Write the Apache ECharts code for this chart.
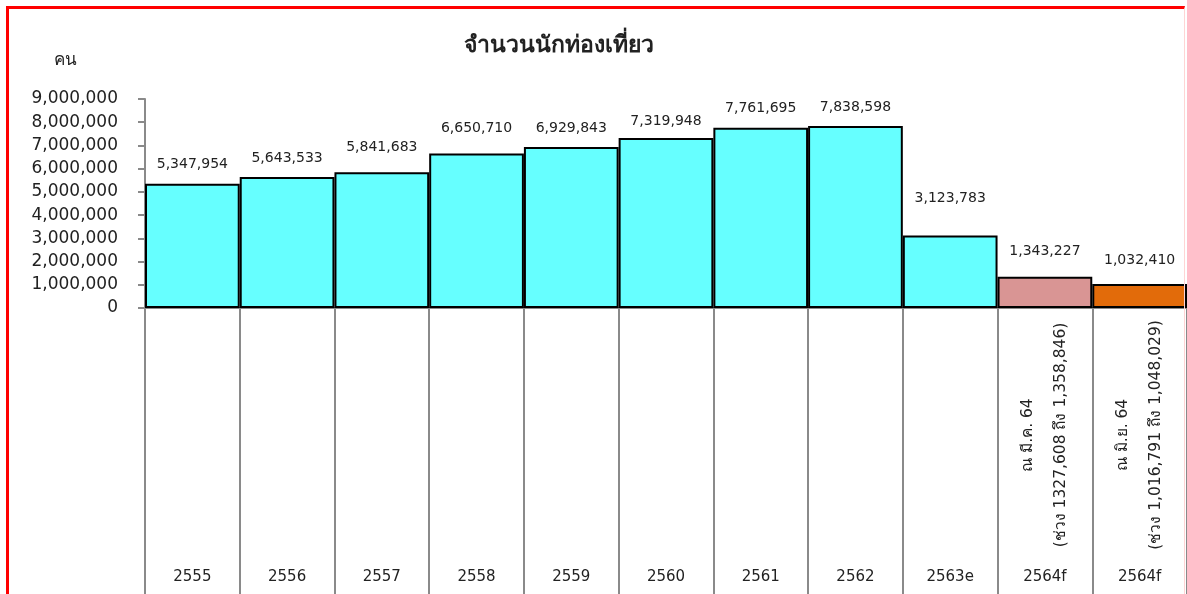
<!DOCTYPE html>
<html>
<head>
<meta charset="utf-8">
<script src="https://cdn.jsdelivr.net/npm/echarts@6/dist/echarts.min.js"></script>
<style>
    html, body { margin: 0; padding: 0; background: #fff; }
    #chartWrap { width: 1187px; height: 594px; }
    #frame {
        position: absolute; left: 6px; top: 6px; width: 1175px; height: 600px;
        border-left: 3px solid #ff0000; border-top: 3px solid #ff0000;
        border-right: 1px solid #ffd4d4; pointer-events: none;
    }
</style>
</head>
<body>
<div id="chartWrap"></div>
<div id="frame"></div>
<script>
// ข้อมูลจำนวนนักท่องเที่ยว
const years = ['2555', '2556', '2557', '2558', '2559', '2560', '2561', '2562', '2563e', '2564f', '2564f']
const visitors = [5347954, 5643533, 5841683, 6650710, 6929843, 7319948, 7761695, 7838598, 3123783, 1343227, 1032410]
const notes = ['', '', '', '', '', '', '', '', '',
    'ณ มี.ค. 64\n(ช่วง 1327,608 ถึง 1,358,846)',
    'ณ มิ.ย. 64\n(ช่วง 1,016,791 ถึง 1,048,029)']
const yTicks = [0, 1000000, 2000000, 3000000, 4000000, 5000000, 6000000, 7000000, 8000000, 9000000]

// สีแท่งและระยะป้ายตัวเลข (สไตล์)
const barColors = ['#66ffff', '#66ffff', '#66ffff', '#66ffff', '#66ffff', '#66ffff', '#66ffff', '#66ffff', '#66ffff', '#d99594', '#e26b0a']
const labelGaps = [12, 12, 18, 18, 12, 10, 12, 12, 30, 18, 17]
const font = 'Tahoma, "DejaVu Sans", "Noto Sans", sans-serif'
const fmt = v => Number(v).toLocaleString('en-US')

var chartDom = echarts.init(document.getElementById('chartWrap'))
var option = {
    animation: false,
    backgroundColor: '#fff',
    textStyle: { fontFamily: font },
    title: {
        text: 'จำนวนนักท่องเที่ยว',
        left: 554, top: 30, textAlign: 'center',
        textStyle: { fontFamily: font, fontSize: 23, fontWeight: 'bold', color: '#222' }
    },
    grid: { left: 145, right: -1, top: 99, bottom: 286, containLabel: false },
    xAxis: [{
        type: 'category',
        data: years,
        axisLine: { lineStyle: { color: '#8a8a8a', width: 2 } },
        axisTick: { show: true, length: 290, lineStyle: { color: '#8a8a8a', width: 2 } },
        axisLabel: { margin: 262, fontSize: 15, color: '#222', fontFamily: font }
    }, {
        type: 'category',
        data: notes,
        position: 'bottom',
        axisLine: { show: false },
        axisTick: { show: false },
        axisLabel: {
            rotate: 90, margin: 127, align: 'center', verticalAlign: 'middle',
            fontSize: 15.5, lineHeight: 33, color: '#222', fontFamily: font, interval: 0
        }
    }],
    yAxis: {
        type: 'value',
        min: yTicks[0],
        max: yTicks[yTicks.length - 1],
        interval: 1000000,
        name: 'คน',
        nameLocation: 'end',
        nameGap: 30,
        nameTextStyle: { fontSize: 17, color: '#222', align: 'right', padding: [0, 68, 0, 0], fontFamily: font },
        splitLine: { show: false },
        axisLine: { show: true, lineStyle: { color: '#8a8a8a', width: 2 } },
        axisTick: { show: true, length: 7, lineStyle: { color: '#8a8a8a', width: 2 } },
        axisLabel: { margin: 27, fontSize: 17, color: '#222', fontFamily: font, formatter: fmt }
    },
    series: [{
        type: 'bar',
        barCategoryGap: '0%',
        data: visitors.map((v, i) => ({
            value: v,
            itemStyle: { color: barColors[i] },
            label: { distance: labelGaps[i] }
        })),
        itemStyle: { borderColor: '#000', borderWidth: 2 },
        label: {
            show: true, position: 'top', fontSize: 14, color: '#222',
            fontFamily: font, formatter: p => fmt(p.value)
        }
    }]
}
chartDom.setOption(option)
</script>
</body>
</html>
